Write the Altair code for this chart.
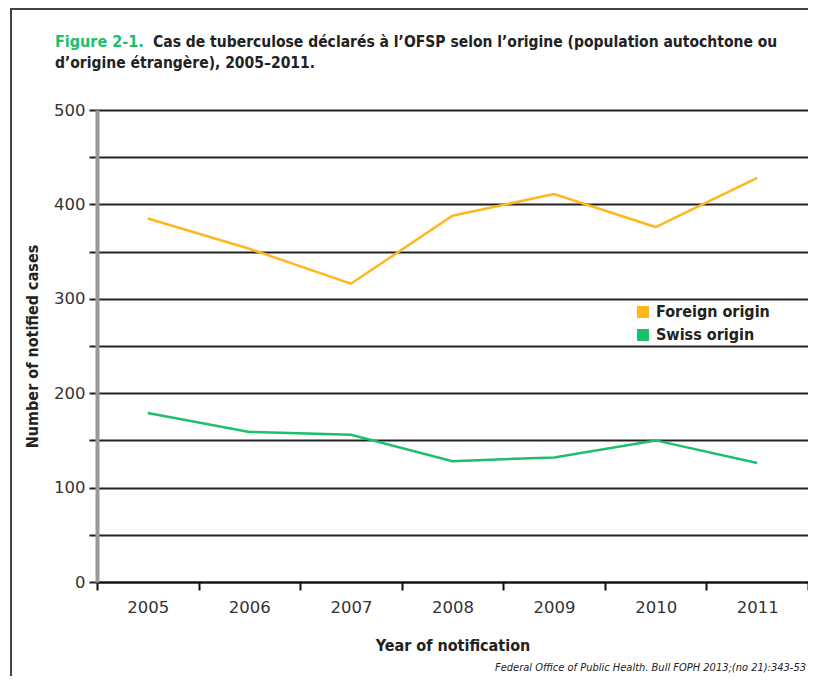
import altair as alt
import pandas as pd

years = ["2005", "2006", "2007", "2008", "2009", "2010", "2011"]
foreign = [385, 353, 316, 388, 411, 376, 428]
swiss = [179, 159, 156, 128, 132, 150, 126]
series = ["Foreign origin", "Swiss origin"]
colors = ["#FFB81C", "#1DBF6B"]
y_ticks = [0, 50, 100, 150, 200, 250, 300, 350, 400, 450, 500]

rows = []
for s, vals in zip(series, [foreign, swiss]):
    for yr, v in zip(years, vals):
        rows.append({"year": yr, "cases": v, "origin": s})
df = pd.DataFrame(rows)

FONT = "DejaVu Sans"
COND = "DejaVu Sans Condensed"
W, H = 711, 472

x_enc = alt.X("year:N", sort=years,
              scale=alt.Scale(paddingInner=0, paddingOuter=0),
              axis=alt.Axis(title="Year of notification", labelAngle=0, tickBand="extent",
                            domainColor="#111", domainWidth=2, tickColor="#111", tickWidth=2,
                            tickSize=8, labelPadding=9, labelFont=FONT, labelFontSize=16.5,
                            labelColor="#333", titleFont=COND, titleFontSize=16,
                            titleFontWeight="bold", titleColor="#222", titlePadding=22))
y_enc = alt.Y("cases:Q", scale=alt.Scale(domain=[0, 500], nice=False),
              axis=alt.Axis(title="Number of notified cases", values=y_ticks,
                            labelExpr="datum.value % 100 == 0 ? datum.label : ''",
                            grid=True, gridColor="#222", gridWidth=2,
                            domainColor="#999", domainWidth=4,
                            tickColor="#222", tickWidth=2, tickSize=8, labelPadding=4,
                            labelFont=FONT, labelFontSize=16.5, labelColor="#333",
                            titleFont=COND, titleFontSize=16, titleFontWeight="bold",
                            titleColor="#222", titlePadding=13))

lines = alt.Chart(df).mark_line(strokeWidth=2.5).encode(
    x=x_enc, y=y_enc,
    color=alt.Color("origin:N", scale=alt.Scale(domain=series, range=colors),
                    legend=alt.Legend(title=None, orient="none", legendX=538, legendY=194,
                                      symbolType="square", symbolSize=36,
                                      symbolStrokeWidth=6, symbolOpacity=1,
                                      labelFont=COND, labelFontSize=16, labelFontWeight="bold",
                                      labelColor="#222", rowPadding=-13, labelOffset=5)),
)

one = alt.Data(values=[{}])

title_green = alt.Chart(one).mark_text(
    align="left", baseline="middle", font=COND, fontSize=16, fontWeight="bold",
    color="#1DBF6B", text="Figure 2-1.").encode(x=alt.value(-42), y=alt.value(-68))
title_black1 = alt.Chart(one).mark_text(
    align="left", baseline="middle", font=COND, fontSize=15.5, fontWeight="bold",
    color="#222",
    text="Cas de tuberculose déclarés à l’OFSP selon l’origine (population autochtone ou"
).encode(x=alt.value(56), y=alt.value(-68))
title_black2 = alt.Chart(one).mark_text(
    align="left", baseline="middle", font=COND, fontSize=15.5, fontWeight="bold",
    color="#222", text="d’origine étrangère), 2005–2011."
).encode(x=alt.value(-42), y=alt.value(-47))

source = alt.Chart(one).mark_text(
    align="right", baseline="middle", font=COND, fontSize=11, fontStyle="italic",
    color="#222", text="Federal Office of Public Health. Bull FOPH 2013;(no 21):343-53"
).encode(x=alt.value(W - 2), y=alt.value(558))

frame = alt.Chart(one).mark_rect(fill="transparent", stroke="#444", strokeWidth=2).encode(
    x=alt.value(-86), x2=alt.value(W + 40), y=alt.value(-101), y2=alt.value(H + 150))

chart = alt.layer(frame, lines, title_green, title_black1,
                  title_black2, source).properties(
    width=W, height=H,
    autosize=alt.AutoSizeParams(type="none"),
    padding={"left": 89, "top": 102, "right": 0, "bottom": 94},
).configure_view(stroke=None).configure(background="white")

chart.save("out.html", embed_options={"renderer": "svg", "actions": False})
